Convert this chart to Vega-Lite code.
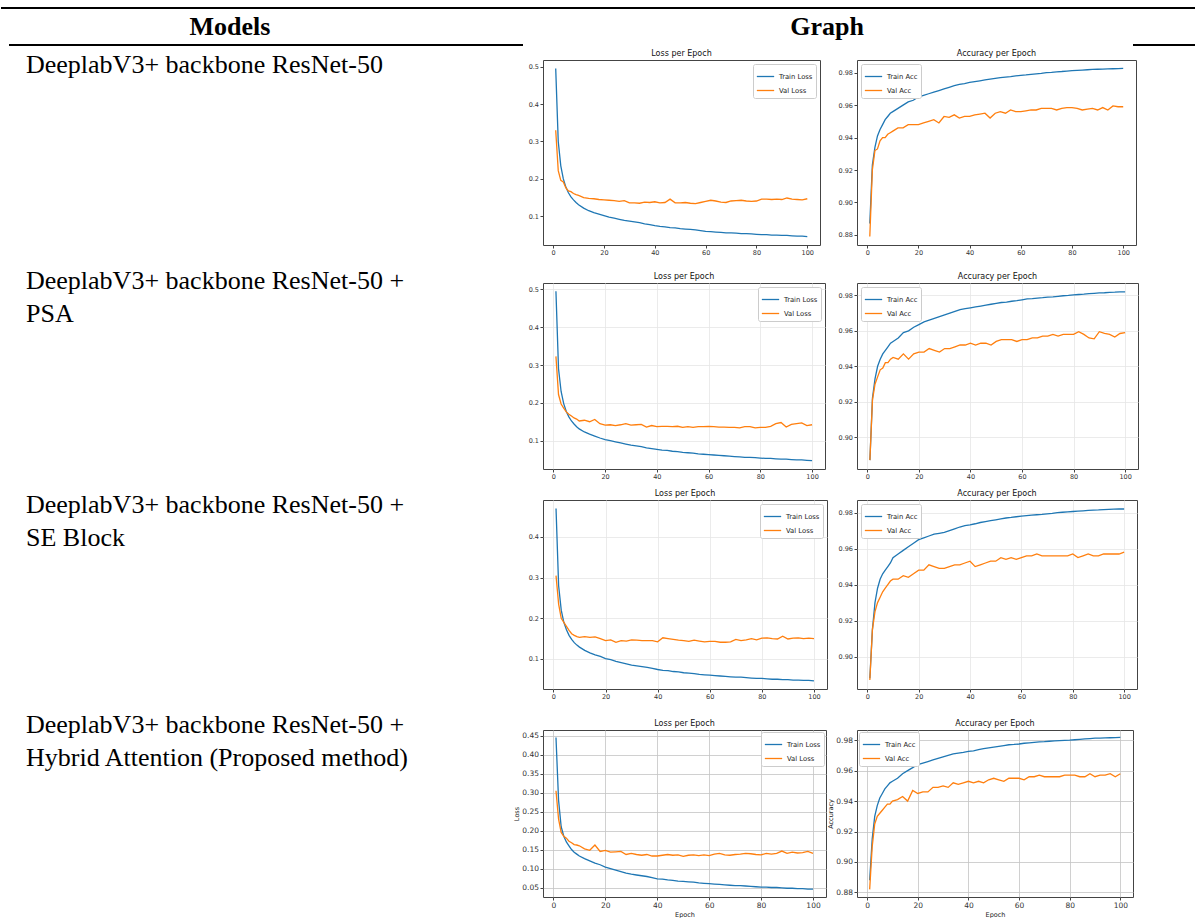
{
 "$schema": "https://vega.github.io/schema/vega-lite/v6.json",
 "padding": 0,
 "background": "white",
 "config": {
  "view": {"stroke": "#444444", "strokeWidth": 1},
  "axis": {"labelFont": "DejaVu Sans", "labelFontSize": 6.5, "labelColor": "#333333", "tickColor": "#444444", "tickSize": 3, "labelPadding": 1.5, "domain": false, "grid": false, "titleFont": "DejaVu Sans", "titleFontWeight": "normal", "titleFontSize": 6.5, "titleColor": "#222222", "titlePadding": 2},
  "title": {"font": "DejaVu Sans", "fontSize": 8, "fontWeight": "normal", "color": "#111111", "offset": 2},
  "legend": {"labelFont": "DejaVu Sans", "labelFontSize": 6.8, "labelColor": "#222222", "symbolType": "stroke", "symbolSize": 300, "symbolStrokeWidth": 1.4, "strokeColor": "#cccccc", "fillColor": "white", "padding": 3, "cornerRadius": 2, "rowPadding": 0, "labelOffset": 4, "offset": 4},
  "line": {"strokeWidth": 1.3}
 },
 "datasets": {
  "models": [
   {"m": 1, "name": "DeeplabV3+ backbone ResNet-50"},
   {"m": 2, "name": "DeeplabV3+ backbone ResNet-50 +\nPSA"},
   {"m": 3, "name": "DeeplabV3+ backbone ResNet-50 +\nSE Block"},
   {"m": 4, "name": "DeeplabV3+ backbone ResNet-50 +\nHybrid Attention (Proposed method)"}
  ],
  "header": [{"h": "Models"}, {"h": "Graph"}],
  "curves": [
{"m":1,"e":1,"tl":0.495,"vl":0.330,"ta":0.887,"va":0.879},
{"m":1,"e":2,"tl":0.300,"vl":0.222,"ta":0.923,"va":0.920},
{"m":1,"e":3,"tl":0.235,"vl":0.196,"ta":0.934,"va":0.932},
{"m":1,"e":4,"tl":0.200,"vl":0.192,"ta":0.941,"va":0.933},
{"m":1,"e":5,"tl":0.178,"vl":0.176,"ta":0.945,"va":0.938},
{"m":1,"e":6,"tl":0.163,"vl":0.168,"ta":0.948,"va":0.940},
{"m":1,"e":7,"tl":0.152,"vl":0.166,"ta":0.951,"va":0.940},
{"m":1,"e":8,"tl":0.144,"vl":0.161,"ta":0.953,"va":0.942},
{"m":1,"e":9,"tl":0.137,"vl":0.158,"ta":0.955,"va":0.943},
{"m":1,"e":10,"tl":0.131,"vl":0.156,"ta":0.956,"va":0.944},
{"m":1,"e":12,"tl":0.122,"vl":0.150,"ta":0.958,"va":0.946},
{"m":1,"e":14,"tl":0.115,"vl":0.148,"ta":0.960,"va":0.946},
{"m":1,"e":16,"tl":0.110,"vl":0.147,"ta":0.962,"va":0.948},
{"m":1,"e":18,"tl":0.106,"vl":0.145,"ta":0.963,"va":0.948},
{"m":1,"e":20,"tl":0.102,"vl":0.144,"ta":0.965,"va":0.948},
{"m":1,"e":22,"tl":0.098,"vl":0.143,"ta":0.966,"va":0.949},
{"m":1,"e":24,"tl":0.095,"vl":0.142,"ta":0.967,"va":0.950},
{"m":1,"e":26,"tl":0.092,"vl":0.140,"ta":0.968,"va":0.951},
{"m":1,"e":28,"tl":0.089,"vl":0.142,"ta":0.969,"va":0.949},
{"m":1,"e":30,"tl":0.087,"vl":0.136,"ta":0.970,"va":0.953},
{"m":1,"e":32,"tl":0.085,"vl":0.136,"ta":0.971,"va":0.9525},
{"m":1,"e":34,"tl":0.083,"vl":0.135,"ta":0.972,"va":0.954},
{"m":1,"e":36,"tl":0.080,"vl":0.138,"ta":0.9728,"va":0.952},
{"m":1,"e":38,"tl":0.078,"vl":0.137,"ta":0.9733,"va":0.953},
{"m":1,"e":40,"tl":0.075,"vl":0.139,"ta":0.974,"va":0.953},
{"m":1,"e":42,"tl":0.073,"vl":0.136,"ta":0.9745,"va":0.954},
{"m":1,"e":44,"tl":0.072,"vl":0.137,"ta":0.975,"va":0.9545},
{"m":1,"e":46,"tl":0.070,"vl":0.146,"ta":0.9755,"va":0.955},
{"m":1,"e":48,"tl":0.069,"vl":0.136,"ta":0.976,"va":0.952},
{"m":1,"e":50,"tl":0.067,"vl":0.136,"ta":0.9765,"va":0.955},
{"m":1,"e":52,"tl":0.066,"vl":0.137,"ta":0.977,"va":0.956},
{"m":1,"e":54,"tl":0.065,"vl":0.135,"ta":0.9773,"va":0.955},
{"m":1,"e":56,"tl":0.064,"vl":0.134,"ta":0.9776,"va":0.957},
{"m":1,"e":58,"tl":0.062,"vl":0.137,"ta":0.978,"va":0.956},
{"m":1,"e":60,"tl":0.060,"vl":0.140,"ta":0.9783,"va":0.956},
{"m":1,"e":62,"tl":0.059,"vl":0.143,"ta":0.9786,"va":0.9565},
{"m":1,"e":64,"tl":0.058,"vl":0.141,"ta":0.979,"va":0.957},
{"m":1,"e":66,"tl":0.057,"vl":0.138,"ta":0.9793,"va":0.957},
{"m":1,"e":68,"tl":0.056,"vl":0.137,"ta":0.9796,"va":0.958},
{"m":1,"e":70,"tl":0.056,"vl":0.141,"ta":0.980,"va":0.958},
{"m":1,"e":72,"tl":0.055,"vl":0.142,"ta":0.9802,"va":0.958},
{"m":1,"e":74,"tl":0.054,"vl":0.143,"ta":0.9805,"va":0.957},
{"m":1,"e":76,"tl":0.054,"vl":0.141,"ta":0.9807,"va":0.958},
{"m":1,"e":78,"tl":0.053,"vl":0.140,"ta":0.981,"va":0.9585},
{"m":1,"e":80,"tl":0.052,"vl":0.141,"ta":0.9812,"va":0.9585},
{"m":1,"e":82,"tl":0.051,"vl":0.146,"ta":0.9814,"va":0.958},
{"m":1,"e":84,"tl":0.051,"vl":0.146,"ta":0.9816,"va":0.957},
{"m":1,"e":86,"tl":0.050,"vl":0.145,"ta":0.9818,"va":0.9575},
{"m":1,"e":88,"tl":0.050,"vl":0.146,"ta":0.982,"va":0.958},
{"m":1,"e":90,"tl":0.049,"vl":0.145,"ta":0.9821,"va":0.957},
{"m":1,"e":92,"tl":0.049,"vl":0.149,"ta":0.9822,"va":0.9585},
{"m":1,"e":94,"tl":0.048,"vl":0.146,"ta":0.9823,"va":0.957},
{"m":1,"e":96,"tl":0.047,"vl":0.145,"ta":0.9824,"va":0.9595},
{"m":1,"e":98,"tl":0.047,"vl":0.144,"ta":0.9825,"va":0.959},
{"m":1,"e":100,"tl":0.046,"vl":0.147,"ta":0.9826,"va":0.959},
{"m":2,"e":1,"tl":0.495,"vl":0.323,"ta":0.887,"va":0.887},
{"m":2,"e":2,"tl":0.290,"vl":0.222,"ta":0.922,"va":0.921},
{"m":2,"e":3,"tl":0.230,"vl":0.197,"ta":0.933,"va":0.930},
{"m":2,"e":4,"tl":0.198,"vl":0.186,"ta":0.940,"va":0.934},
{"m":2,"e":5,"tl":0.177,"vl":0.176,"ta":0.944,"va":0.938},
{"m":2,"e":6,"tl":0.163,"vl":0.170,"ta":0.947,"va":0.939},
{"m":2,"e":7,"tl":0.152,"vl":0.165,"ta":0.949,"va":0.942},
{"m":2,"e":8,"tl":0.144,"vl":0.160,"ta":0.951,"va":0.942},
{"m":2,"e":9,"tl":0.137,"vl":0.157,"ta":0.953,"va":0.944},
{"m":2,"e":10,"tl":0.131,"vl":0.152,"ta":0.954,"va":0.945},
{"m":2,"e":12,"tl":0.123,"vl":0.154,"ta":0.956,"va":0.944},
{"m":2,"e":14,"tl":0.117,"vl":0.150,"ta":0.959,"va":0.947},
{"m":2,"e":16,"tl":0.112,"vl":0.156,"ta":0.960,"va":0.944},
{"m":2,"e":18,"tl":0.107,"vl":0.145,"ta":0.962,"va":0.947},
{"m":2,"e":20,"tl":0.103,"vl":0.141,"ta":0.9635,"va":0.948},
{"m":2,"e":22,"tl":0.100,"vl":0.142,"ta":0.965,"va":0.948},
{"m":2,"e":24,"tl":0.097,"vl":0.140,"ta":0.966,"va":0.950},
{"m":2,"e":26,"tl":0.094,"vl":0.142,"ta":0.967,"va":0.949},
{"m":2,"e":28,"tl":0.091,"vl":0.145,"ta":0.968,"va":0.948},
{"m":2,"e":30,"tl":0.088,"vl":0.141,"ta":0.969,"va":0.950},
{"m":2,"e":32,"tl":0.086,"vl":0.142,"ta":0.970,"va":0.950},
{"m":2,"e":34,"tl":0.084,"vl":0.143,"ta":0.971,"va":0.951},
{"m":2,"e":36,"tl":0.081,"vl":0.136,"ta":0.972,"va":0.952},
{"m":2,"e":38,"tl":0.079,"vl":0.140,"ta":0.9725,"va":0.952},
{"m":2,"e":40,"tl":0.077,"vl":0.137,"ta":0.973,"va":0.953},
{"m":2,"e":42,"tl":0.075,"vl":0.138,"ta":0.9735,"va":0.952},
{"m":2,"e":44,"tl":0.074,"vl":0.138,"ta":0.974,"va":0.953},
{"m":2,"e":46,"tl":0.072,"vl":0.137,"ta":0.9745,"va":0.953},
{"m":2,"e":48,"tl":0.071,"vl":0.138,"ta":0.975,"va":0.952},
{"m":2,"e":50,"tl":0.069,"vl":0.135,"ta":0.9755,"va":0.954},
{"m":2,"e":52,"tl":0.068,"vl":0.137,"ta":0.976,"va":0.955},
{"m":2,"e":54,"tl":0.067,"vl":0.135,"ta":0.9762,"va":0.955},
{"m":2,"e":56,"tl":0.065,"vl":0.137,"ta":0.9767,"va":0.955},
{"m":2,"e":58,"tl":0.064,"vl":0.137,"ta":0.977,"va":0.954},
{"m":2,"e":60,"tl":0.063,"vl":0.138,"ta":0.9775,"va":0.955},
{"m":2,"e":62,"tl":0.062,"vl":0.137,"ta":0.978,"va":0.955},
{"m":2,"e":64,"tl":0.061,"vl":0.136,"ta":0.9782,"va":0.956},
{"m":2,"e":66,"tl":0.060,"vl":0.136,"ta":0.9785,"va":0.956},
{"m":2,"e":68,"tl":0.059,"vl":0.135,"ta":0.9787,"va":0.957},
{"m":2,"e":70,"tl":0.058,"vl":0.135,"ta":0.979,"va":0.957},
{"m":2,"e":72,"tl":0.057,"vl":0.134,"ta":0.9792,"va":0.958},
{"m":2,"e":74,"tl":0.056,"vl":0.137,"ta":0.9795,"va":0.957},
{"m":2,"e":76,"tl":0.056,"vl":0.137,"ta":0.9798,"va":0.958},
{"m":2,"e":78,"tl":0.055,"vl":0.134,"ta":0.980,"va":0.958},
{"m":2,"e":80,"tl":0.054,"vl":0.135,"ta":0.9803,"va":0.958},
{"m":2,"e":82,"tl":0.053,"vl":0.135,"ta":0.9805,"va":0.9595},
{"m":2,"e":84,"tl":0.053,"vl":0.138,"ta":0.9807,"va":0.958},
{"m":2,"e":86,"tl":0.052,"vl":0.145,"ta":0.981,"va":0.956},
{"m":2,"e":88,"tl":0.051,"vl":0.148,"ta":0.9812,"va":0.9555},
{"m":2,"e":90,"tl":0.051,"vl":0.136,"ta":0.9814,"va":0.9595},
{"m":2,"e":92,"tl":0.050,"vl":0.143,"ta":0.9815,"va":0.9585},
{"m":2,"e":94,"tl":0.049,"vl":0.145,"ta":0.9817,"va":0.958},
{"m":2,"e":96,"tl":0.049,"vl":0.147,"ta":0.9818,"va":0.9565},
{"m":2,"e":98,"tl":0.048,"vl":0.140,"ta":0.982,"va":0.9585},
{"m":2,"e":100,"tl":0.047,"vl":0.142,"ta":0.982,"va":0.959},
{"m":3,"e":1,"tl":0.470,"vl":0.305,"ta":0.888,"va":0.887},
{"m":3,"e":2,"tl":0.280,"vl":0.235,"ta":0.915,"va":0.915},
{"m":3,"e":3,"tl":0.220,"vl":0.200,"ta":0.930,"va":0.925},
{"m":3,"e":4,"tl":0.190,"vl":0.190,"ta":0.938,"va":0.930},
{"m":3,"e":5,"tl":0.172,"vl":0.180,"ta":0.943,"va":0.933},
{"m":3,"e":6,"tl":0.158,"vl":0.170,"ta":0.946,"va":0.936},
{"m":3,"e":7,"tl":0.148,"vl":0.162,"ta":0.948,"va":0.938},
{"m":3,"e":8,"tl":0.140,"vl":0.158,"ta":0.950,"va":0.940},
{"m":3,"e":9,"tl":0.134,"vl":0.155,"ta":0.952,"va":0.942},
{"m":3,"e":10,"tl":0.129,"vl":0.153,"ta":0.955,"va":0.943},
{"m":3,"e":12,"tl":0.121,"vl":0.155,"ta":0.957,"va":0.943},
{"m":3,"e":14,"tl":0.115,"vl":0.153,"ta":0.959,"va":0.945},
{"m":3,"e":16,"tl":0.110,"vl":0.154,"ta":0.961,"va":0.944},
{"m":3,"e":18,"tl":0.106,"vl":0.150,"ta":0.963,"va":0.946},
{"m":3,"e":20,"tl":0.101,"vl":0.145,"ta":0.965,"va":0.948},
{"m":3,"e":22,"tl":0.098,"vl":0.147,"ta":0.966,"va":0.948},
{"m":3,"e":24,"tl":0.094,"vl":0.141,"ta":0.967,"va":0.951},
{"m":3,"e":26,"tl":0.091,"vl":0.145,"ta":0.968,"va":0.950},
{"m":3,"e":28,"tl":0.088,"vl":0.144,"ta":0.9685,"va":0.949},
{"m":3,"e":30,"tl":0.085,"vl":0.147,"ta":0.969,"va":0.949},
{"m":3,"e":32,"tl":0.083,"vl":0.146,"ta":0.970,"va":0.950},
{"m":3,"e":34,"tl":0.081,"vl":0.145,"ta":0.971,"va":0.951},
{"m":3,"e":36,"tl":0.079,"vl":0.145,"ta":0.972,"va":0.951},
{"m":3,"e":38,"tl":0.077,"vl":0.145,"ta":0.9728,"va":0.952},
{"m":3,"e":40,"tl":0.074,"vl":0.142,"ta":0.9732,"va":0.953},
{"m":3,"e":42,"tl":0.072,"vl":0.152,"ta":0.9738,"va":0.950},
{"m":3,"e":44,"tl":0.071,"vl":0.150,"ta":0.9745,"va":0.951},
{"m":3,"e":46,"tl":0.069,"vl":0.148,"ta":0.975,"va":0.952},
{"m":3,"e":48,"tl":0.068,"vl":0.146,"ta":0.9755,"va":0.953},
{"m":3,"e":50,"tl":0.066,"vl":0.145,"ta":0.976,"va":0.953},
{"m":3,"e":52,"tl":0.065,"vl":0.143,"ta":0.9765,"va":0.955},
{"m":3,"e":54,"tl":0.064,"vl":0.146,"ta":0.977,"va":0.954},
{"m":3,"e":56,"tl":0.062,"vl":0.144,"ta":0.9773,"va":0.955},
{"m":3,"e":58,"tl":0.061,"vl":0.142,"ta":0.9777,"va":0.954},
{"m":3,"e":60,"tl":0.060,"vl":0.143,"ta":0.978,"va":0.955},
{"m":3,"e":62,"tl":0.059,"vl":0.143,"ta":0.9783,"va":0.956},
{"m":3,"e":64,"tl":0.058,"vl":0.141,"ta":0.9786,"va":0.956},
{"m":3,"e":66,"tl":0.057,"vl":0.141,"ta":0.9788,"va":0.957},
{"m":3,"e":68,"tl":0.056,"vl":0.142,"ta":0.979,"va":0.956},
{"m":3,"e":70,"tl":0.055,"vl":0.148,"ta":0.9793,"va":0.956},
{"m":3,"e":72,"tl":0.055,"vl":0.145,"ta":0.9796,"va":0.956},
{"m":3,"e":74,"tl":0.054,"vl":0.147,"ta":0.980,"va":0.956},
{"m":3,"e":76,"tl":0.053,"vl":0.150,"ta":0.9802,"va":0.956},
{"m":3,"e":78,"tl":0.052,"vl":0.147,"ta":0.9804,"va":0.956},
{"m":3,"e":80,"tl":0.052,"vl":0.151,"ta":0.9806,"va":0.957},
{"m":3,"e":82,"tl":0.051,"vl":0.152,"ta":0.9808,"va":0.955},
{"m":3,"e":84,"tl":0.050,"vl":0.150,"ta":0.981,"va":0.956},
{"m":3,"e":86,"tl":0.050,"vl":0.149,"ta":0.9812,"va":0.957},
{"m":3,"e":88,"tl":0.049,"vl":0.156,"ta":0.9814,"va":0.956},
{"m":3,"e":90,"tl":0.049,"vl":0.149,"ta":0.9815,"va":0.956},
{"m":3,"e":92,"tl":0.048,"vl":0.151,"ta":0.9817,"va":0.957},
{"m":3,"e":94,"tl":0.048,"vl":0.152,"ta":0.9818,"va":0.957},
{"m":3,"e":96,"tl":0.047,"vl":0.150,"ta":0.9819,"va":0.957},
{"m":3,"e":98,"tl":0.047,"vl":0.151,"ta":0.982,"va":0.957},
{"m":3,"e":100,"tl":0.046,"vl":0.150,"ta":0.982,"va":0.958},
{"m":4,"e":1,"tl":0.445,"vl":0.305,"ta":0.888,"va":0.882},
{"m":4,"e":2,"tl":0.280,"vl":0.230,"ta":0.915,"va":0.910},
{"m":4,"e":3,"tl":0.210,"vl":0.195,"ta":0.930,"va":0.925},
{"m":4,"e":4,"tl":0.185,"vl":0.185,"ta":0.937,"va":0.930},
{"m":4,"e":5,"tl":0.170,"vl":0.180,"ta":0.942,"va":0.932},
{"m":4,"e":6,"tl":0.160,"vl":0.172,"ta":0.945,"va":0.934},
{"m":4,"e":7,"tl":0.150,"vl":0.168,"ta":0.948,"va":0.936},
{"m":4,"e":8,"tl":0.143,"vl":0.163,"ta":0.950,"va":0.938},
{"m":4,"e":9,"tl":0.138,"vl":0.162,"ta":0.952,"va":0.938},
{"m":4,"e":10,"tl":0.133,"vl":0.160,"ta":0.953,"va":0.940},
{"m":4,"e":12,"tl":0.126,"vl":0.152,"ta":0.955,"va":0.941},
{"m":4,"e":14,"tl":0.120,"vl":0.148,"ta":0.958,"va":0.943},
{"m":4,"e":16,"tl":0.114,"vl":0.162,"ta":0.960,"va":0.940},
{"m":4,"e":18,"tl":0.110,"vl":0.145,"ta":0.962,"va":0.947},
{"m":4,"e":20,"tl":0.104,"vl":0.148,"ta":0.964,"va":0.945},
{"m":4,"e":22,"tl":0.100,"vl":0.143,"ta":0.965,"va":0.946},
{"m":4,"e":24,"tl":0.096,"vl":0.144,"ta":0.966,"va":0.946},
{"m":4,"e":26,"tl":0.092,"vl":0.145,"ta":0.967,"va":0.949},
{"m":4,"e":28,"tl":0.088,"vl":0.137,"ta":0.968,"va":0.949},
{"m":4,"e":30,"tl":0.085,"vl":0.140,"ta":0.969,"va":0.950},
{"m":4,"e":32,"tl":0.083,"vl":0.137,"ta":0.970,"va":0.949},
{"m":4,"e":34,"tl":0.081,"vl":0.135,"ta":0.971,"va":0.952},
{"m":4,"e":36,"tl":0.079,"vl":0.137,"ta":0.9715,"va":0.951},
{"m":4,"e":38,"tl":0.076,"vl":0.133,"ta":0.972,"va":0.952},
{"m":4,"e":40,"tl":0.073,"vl":0.133,"ta":0.9726,"va":0.953},
{"m":4,"e":42,"tl":0.072,"vl":0.135,"ta":0.973,"va":0.952},
{"m":4,"e":44,"tl":0.070,"vl":0.137,"ta":0.9738,"va":0.953},
{"m":4,"e":46,"tl":0.069,"vl":0.135,"ta":0.9745,"va":0.952},
{"m":4,"e":48,"tl":0.067,"vl":0.136,"ta":0.975,"va":0.954},
{"m":4,"e":50,"tl":0.066,"vl":0.132,"ta":0.9755,"va":0.955},
{"m":4,"e":52,"tl":0.065,"vl":0.135,"ta":0.976,"va":0.954},
{"m":4,"e":54,"tl":0.064,"vl":0.136,"ta":0.9765,"va":0.953},
{"m":4,"e":56,"tl":0.062,"vl":0.134,"ta":0.977,"va":0.955},
{"m":4,"e":58,"tl":0.061,"vl":0.136,"ta":0.9772,"va":0.955},
{"m":4,"e":60,"tl":0.060,"vl":0.134,"ta":0.9775,"va":0.955},
{"m":4,"e":62,"tl":0.059,"vl":0.138,"ta":0.978,"va":0.954},
{"m":4,"e":64,"tl":0.058,"vl":0.140,"ta":0.9783,"va":0.956},
{"m":4,"e":66,"tl":0.057,"vl":0.136,"ta":0.9786,"va":0.956},
{"m":4,"e":68,"tl":0.056,"vl":0.135,"ta":0.9789,"va":0.957},
{"m":4,"e":70,"tl":0.055,"vl":0.137,"ta":0.979,"va":0.956},
{"m":4,"e":72,"tl":0.055,"vl":0.138,"ta":0.9793,"va":0.956},
{"m":4,"e":74,"tl":0.054,"vl":0.140,"ta":0.9795,"va":0.956},
{"m":4,"e":76,"tl":0.053,"vl":0.139,"ta":0.9797,"va":0.956},
{"m":4,"e":78,"tl":0.052,"vl":0.137,"ta":0.9799,"va":0.957},
{"m":4,"e":80,"tl":0.051,"vl":0.136,"ta":0.980,"va":0.957},
{"m":4,"e":82,"tl":0.051,"vl":0.140,"ta":0.9803,"va":0.957},
{"m":4,"e":84,"tl":0.050,"vl":0.138,"ta":0.9806,"va":0.956},
{"m":4,"e":86,"tl":0.050,"vl":0.140,"ta":0.9809,"va":0.956},
{"m":4,"e":88,"tl":0.049,"vl":0.146,"ta":0.9811,"va":0.958},
{"m":4,"e":90,"tl":0.048,"vl":0.140,"ta":0.9813,"va":0.956},
{"m":4,"e":92,"tl":0.048,"vl":0.143,"ta":0.9814,"va":0.957},
{"m":4,"e":94,"tl":0.047,"vl":0.141,"ta":0.9815,"va":0.957},
{"m":4,"e":96,"tl":0.047,"vl":0.142,"ta":0.9816,"va":0.958},
{"m":4,"e":98,"tl":0.046,"vl":0.145,"ta":0.9817,"va":0.956},
{"m":4,"e":100,"tl":0.046,"vl":0.140,"ta":0.9818,"va":0.958}
  ]
 },
 "columns": 3,
 "bounds": "flush",
 "align": {"row": "each", "column": "none"},
 "spacing": {"row": 13, "column": 30},
 "resolve": {"scale": {"x": "independent", "y": "independent", "color": "independent"}, "legend": {"color": "independent"}},
 "concat": [
  {
   "width": 509, "height": 47, "view": {"stroke": null},
   "layer": [
    {"data": {"values": [{}]}, "mark": {"type": "rule", "strokeWidth": 2, "color": "black"},
     "encoding": {"x": {"datum": 0, "type": "quantitative", "scale": {"domain": [0, 509], "range": [0, 509], "nice": false, "zero": false}, "axis": null}, "x2": {"datum": 1195}, "y": {"datum": 8, "type": "quantitative", "scale": {"domain": [47, 0], "nice": false, "zero": false}, "axis": null}}},
    {"data": {"values": [{}]}, "mark": {"type": "rule", "strokeWidth": 2, "color": "black"},
     "encoding": {"x": {"datum": 8, "type": "quantitative"}, "x2": {"datum": 522}, "y": {"datum": 45, "type": "quantitative"}}},
    {"data": {"values": [{}]}, "mark": {"type": "rule", "strokeWidth": 2, "color": "black"},
     "encoding": {"x": {"datum": 1132, "type": "quantitative"}, "x2": {"datum": 1195}, "y": {"datum": 45, "type": "quantitative"}}},
    {"data": {"name": "header"}, "transform": [{"filter": "datum.h == 'Models'"}],
     "mark": {"type": "text", "align": "center", "baseline": "alphabetic", "font": "Liberation Serif", "fontSize": 26, "fontWeight": "bold", "color": "black"},
     "encoding": {"x": {"datum": 229, "type": "quantitative"}, "y": {"datum": 35, "type": "quantitative"}, "text": {"field": "h"}}},
    {"data": {"name": "header"}, "transform": [{"filter": "datum.h == 'Graph'"}],
     "mark": {"type": "text", "align": "center", "baseline": "alphabetic", "font": "Liberation Serif", "fontSize": 26, "fontWeight": "bold", "color": "black"},
     "encoding": {"x": {"datum": 826, "type": "quantitative"}, "y": {"datum": 35, "type": "quantitative"}, "text": {"field": "h"}}}
   ]
  },
  {"width": 10, "height": 47, "view": {"stroke": null}, "data": {"values": [{}]}, "mark": {"type": "point", "opacity": 0}},
  {"width": 10, "height": 47, "view": {"stroke": null}, "data": {"values": [{}]}, "mark": {"type": "point", "opacity": 0}},

  {"width": 509, "height": 210, "view": {"stroke": null}, "data": {"name": "models"}, "transform": [{"filter": "datum.m == 1"}],
   "mark": {"type": "text", "align": "left", "baseline": "alphabetic", "font": "Liberation Serif", "fontSize": 26, "lineBreak": "\n", "lineHeight": 32.5, "color": "black"},
   "encoding": {"x": {"datum": 25, "type": "quantitative", "scale": {"domain": [0, 509], "nice": false, "zero": false}, "axis": null}, "y": {"datum": 13, "type": "quantitative", "scale": {"domain": [210, 0], "nice": false, "zero": false}, "axis": null}, "text": {"field": "name"}}},
  {"width": 277, "height": 185, "title": "Loss per Epoch", "data": {"name": "curves"},
   "transform": [{"filter": "datum.m == 1"}, {"fold": ["tl", "vl"], "as": ["s", "v"]}, {"filter": "isValid(datum.v)"}],
   "mark": {"type": "line", "clip": true},
   "encoding": {
    "x": {"field": "e", "type": "quantitative", "scale": {"domain": [-4, 105], "nice": false, "zero": false}, "axis": {"values": [0, 20, 40, 60, 80, 100], "title": null}},
    "y": {"field": "v", "type": "quantitative", "scale": {"domain": [0.0235, 0.5175], "nice": false, "zero": false}, "axis": {"values": [0.1, 0.2, 0.3, 0.4, 0.5], "format": ".1f", "title": null}},
    "color": {"field": "s", "type": "nominal", "scale": {"domain": ["tl", "vl"], "range": ["#1f77b4", "#ff7f0e"]}, "legend": {"title": null, "orient": "top-right", "labelExpr": "datum.label == 'tl' ? 'Train Loss' : 'Val Loss'"}}
   }},
  {"width": 279, "height": 185, "title": "Accuracy per Epoch", "data": {"name": "curves"},
   "transform": [{"filter": "datum.m == 1"}, {"fold": ["ta", "va"], "as": ["s", "v"]}, {"filter": "isValid(datum.v)"}],
   "mark": {"type": "line", "clip": true},
   "encoding": {
    "x": {"field": "e", "type": "quantitative", "scale": {"domain": [-4, 105], "nice": false, "zero": false}, "axis": {"values": [0, 20, 40, 60, 80, 100], "title": null}},
    "y": {"field": "v", "type": "quantitative", "scale": {"domain": [0.8738, 0.9878], "nice": false, "zero": false}, "axis": {"values": [0.88, 0.90, 0.92, 0.94, 0.96, 0.98], "format": ".2f", "title": null}},
    "color": {"field": "s", "type": "nominal", "scale": {"domain": ["ta", "va"], "range": ["#1f77b4", "#ff7f0e"]}, "legend": {"title": null, "orient": "top-left", "labelExpr": "datum.label == 'ta' ? 'Train Acc' : 'Val Acc'"}}
   }},

  {"width": 507, "height": 204, "view": {"stroke": null}, "data": {"name": "models"}, "transform": [{"filter": "datum.m == 2"}],
   "mark": {"type": "text", "align": "left", "baseline": "alphabetic", "font": "Liberation Serif", "fontSize": 26, "lineBreak": "\n", "lineHeight": 32.5, "color": "black"},
   "encoding": {"x": {"datum": 25, "type": "quantitative", "scale": {"domain": [0, 507], "nice": false, "zero": false}, "axis": null}, "y": {"datum": 6, "type": "quantitative", "scale": {"domain": [204, 0], "nice": false, "zero": false}, "axis": null}, "text": {"field": "name"}}},
  {"width": 282, "height": 186, "title": "Loss per Epoch", "data": {"name": "curves"},
   "transform": [{"filter": "datum.m == 2"}, {"fold": ["tl", "vl"], "as": ["s", "v"]}, {"filter": "isValid(datum.v)"}],
   "mark": {"type": "line", "clip": true},
   "encoding": {
    "x": {"field": "e", "type": "quantitative", "scale": {"domain": [-4, 105], "nice": false, "zero": false}, "axis": {"values": [0, 20, 40, 60, 80, 100], "title": null, "grid": true, "gridColor": "#e6e6e6", "gridWidth": 0.8}},
    "y": {"field": "v", "type": "quantitative", "scale": {"domain": [0.025, 0.517], "nice": false, "zero": false}, "axis": {"values": [0.1, 0.2, 0.3, 0.4, 0.5], "format": ".1f", "title": null, "grid": true, "gridColor": "#e6e6e6", "gridWidth": 0.8}},
    "color": {"field": "s", "type": "nominal", "scale": {"domain": ["tl", "vl"], "range": ["#1f77b4", "#ff7f0e"]}, "legend": {"title": null, "orient": "top-right", "labelExpr": "datum.label == 'tl' ? 'Train Loss' : 'Val Loss'"}}
   }},
  {"width": 281, "height": 186, "title": "Accuracy per Epoch", "data": {"name": "curves"},
   "transform": [{"filter": "datum.m == 2"}, {"fold": ["ta", "va"], "as": ["s", "v"]}, {"filter": "isValid(datum.v)"}],
   "mark": {"type": "line", "clip": true},
   "encoding": {
    "x": {"field": "e", "type": "quantitative", "scale": {"domain": [-4, 105], "nice": false, "zero": false}, "axis": {"values": [0, 20, 40, 60, 80, 100], "title": null, "grid": true, "gridColor": "#e6e6e6", "gridWidth": 0.8}},
    "y": {"field": "v", "type": "quantitative", "scale": {"domain": [0.882, 0.987], "nice": false, "zero": false}, "axis": {"values": [0.90, 0.92, 0.94, 0.96, 0.98], "format": ".2f", "title": null, "grid": true, "gridColor": "#e6e6e6", "gridWidth": 0.8}},
    "color": {"field": "s", "type": "nominal", "scale": {"domain": ["ta", "va"], "range": ["#1f77b4", "#ff7f0e"]}, "legend": {"title": null, "orient": "top-left", "labelExpr": "datum.label == 'ta' ? 'Train Acc' : 'Val Acc'"}}
   }},

  {"width": 506, "height": 217, "view": {"stroke": null}, "data": {"name": "models"}, "transform": [{"filter": "datum.m == 3"}],
   "mark": {"type": "text", "align": "left", "baseline": "alphabetic", "font": "Liberation Serif", "fontSize": 26, "lineBreak": "\n", "lineHeight": 32.5, "color": "black"},
   "encoding": {"x": {"datum": 25, "type": "quantitative", "scale": {"domain": [0, 506], "nice": false, "zero": false}, "axis": null}, "y": {"datum": 13, "type": "quantitative", "scale": {"domain": [217, 0], "nice": false, "zero": false}, "axis": null}, "text": {"field": "name"}}},
  {"width": 284, "height": 189, "title": "Loss per Epoch", "data": {"name": "curves"},
   "transform": [{"filter": "datum.m == 3"}, {"fold": ["tl", "vl"], "as": ["s", "v"]}, {"filter": "isValid(datum.v)"}],
   "mark": {"type": "line", "clip": true},
   "encoding": {
    "x": {"field": "e", "type": "quantitative", "scale": {"domain": [-4, 105], "nice": false, "zero": false}, "axis": {"values": [0, 20, 40, 60, 80, 100], "title": null, "grid": true, "gridColor": "#e6e6e6", "gridWidth": 0.8}},
    "y": {"field": "v", "type": "quantitative", "scale": {"domain": [0.026, 0.491], "nice": false, "zero": false}, "axis": {"values": [0.1, 0.2, 0.3, 0.4], "format": ".1f", "title": null, "grid": true, "gridColor": "#e6e6e6", "gridWidth": 0.8}},
    "color": {"field": "s", "type": "nominal", "scale": {"domain": ["tl", "vl"], "range": ["#1f77b4", "#ff7f0e"]}, "legend": {"title": null, "orient": "top-right", "labelExpr": "datum.label == 'tl' ? 'Train Loss' : 'Val Loss'"}}
   }},
  {"width": 280, "height": 189, "title": "Accuracy per Epoch", "data": {"name": "curves"},
   "transform": [{"filter": "datum.m == 3"}, {"fold": ["ta", "va"], "as": ["s", "v"]}, {"filter": "isValid(datum.v)"}],
   "mark": {"type": "line", "clip": true},
   "encoding": {
    "x": {"field": "e", "type": "quantitative", "scale": {"domain": [-4, 105], "nice": false, "zero": false}, "axis": {"values": [0, 20, 40, 60, 80, 100], "title": null, "grid": true, "gridColor": "#e6e6e6", "gridWidth": 0.8}},
    "y": {"field": "v", "type": "quantitative", "scale": {"domain": [0.882, 0.987], "nice": false, "zero": false}, "axis": {"values": [0.90, 0.92, 0.94, 0.96, 0.98], "format": ".2f", "title": null, "grid": true, "gridColor": "#e6e6e6", "gridWidth": 0.8}},
    "color": {"field": "s", "type": "nominal", "scale": {"domain": ["ta", "va"], "range": ["#1f77b4", "#ff7f0e"]}, "legend": {"title": null, "orient": "top-left", "labelExpr": "datum.label == 'ta' ? 'Train Acc' : 'Val Acc'"}}
   }},

  {"width": 512, "height": 167, "view": {"stroke": null}, "data": {"name": "models"}, "transform": [{"filter": "datum.m == 4"}],
   "mark": {"type": "text", "align": "left", "baseline": "alphabetic", "font": "Liberation Serif", "fontSize": 26, "lineBreak": "\n", "lineHeight": 32.5, "color": "black"},
   "encoding": {"x": {"datum": 25, "type": "quantitative", "scale": {"domain": [0, 512], "nice": false, "zero": false}, "axis": null}, "y": {"datum": 3, "type": "quantitative", "scale": {"domain": [167, 0], "nice": false, "zero": false}, "axis": null}, "text": {"field": "name"}}},
  {"width": 283, "height": 167, "title": "Loss per Epoch", "data": {"name": "curves"},
   "transform": [{"filter": "datum.m == 4"}, {"fold": ["tl", "vl"], "as": ["s", "v"]}, {"filter": "isValid(datum.v)"}],
   "mark": {"type": "line", "clip": true},
   "encoding": {
    "x": {"field": "e", "type": "quantitative", "scale": {"domain": [-4, 105], "nice": false, "zero": false}, "axis": {"values": [0, 20, 40, 60, 80, 100], "title": "Epoch", "grid": true, "gridColor": "#c4c4c4", "gridWidth": 0.8, "labelFontSize": 7.5}},
    "y": {"field": "v", "type": "quantitative", "scale": {"domain": [0.025, 0.465], "nice": false, "zero": false}, "axis": {"values": [0.05, 0.10, 0.15, 0.20, 0.25, 0.30, 0.35, 0.40, 0.45], "format": ".2f", "title": "Loss", "grid": true, "gridColor": "#c4c4c4", "gridWidth": 0.8, "labelFontSize": 7.5}},
    "color": {"field": "s", "type": "nominal", "scale": {"domain": ["tl", "vl"], "range": ["#1f77b4", "#ff7f0e"]}, "legend": {"title": null, "orient": "top-right", "offset": 2, "labelExpr": "datum.label == 'tl' ? 'Train Loss' : 'Val Loss'"}}
   }},
  {"width": 276, "height": 167, "title": "Accuracy per Epoch", "data": {"name": "curves"},
   "transform": [{"filter": "datum.m == 4"}, {"fold": ["ta", "va"], "as": ["s", "v"]}, {"filter": "isValid(datum.v)"}],
   "mark": {"type": "line", "clip": true},
   "encoding": {
    "x": {"field": "e", "type": "quantitative", "scale": {"domain": [-4, 105], "nice": false, "zero": false}, "axis": {"values": [0, 20, 40, 60, 80, 100], "title": "Epoch", "grid": true, "gridColor": "#c4c4c4", "gridWidth": 0.8, "labelFontSize": 7.5}},
    "y": {"field": "v", "type": "quantitative", "scale": {"domain": [0.877, 0.9867], "nice": false, "zero": false}, "axis": {"values": [0.88, 0.90, 0.92, 0.94, 0.96, 0.98], "format": ".2f", "title": "Accuracy", "grid": true, "gridColor": "#c4c4c4", "gridWidth": 0.8, "labelFontSize": 7.5}},
    "color": {"field": "s", "type": "nominal", "scale": {"domain": ["ta", "va"], "range": ["#1f77b4", "#ff7f0e"]}, "legend": {"title": null, "orient": "top-left", "offset": 2, "labelExpr": "datum.label == 'ta' ? 'Train Acc' : 'Val Acc'"}}
   }}
 ]
}
